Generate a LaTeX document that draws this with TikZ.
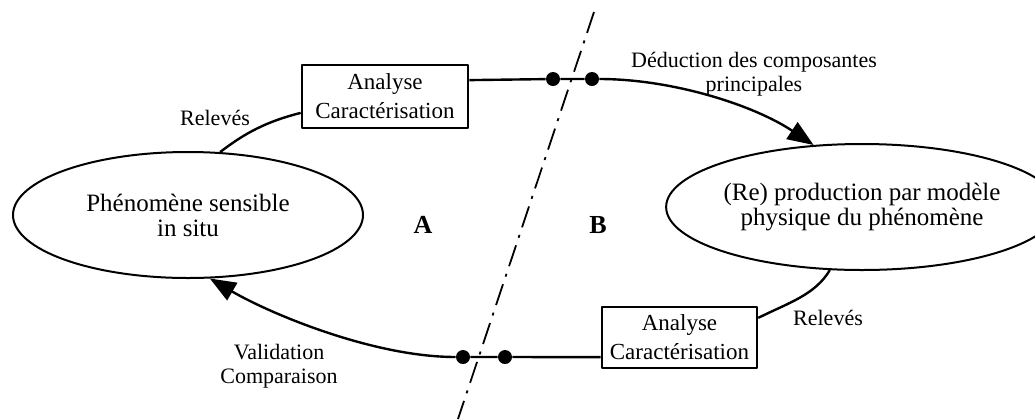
\documentclass[tikz,border=0pt]{standalone}
\usepackage{fontspec}
\setmainfont{Liberation Serif}
\usetikzlibrary{arrows.meta,shapes.geometric}

\begin{document}
\begin{tikzpicture}[x=0.5pt, y=-0.5pt, line join=round,
  >={Triangle[length=13pt,width=10pt]},
  bulle/.style={ellipse, draw, line width=1pt, inner sep=0pt, align=center,
    font=\fontsize{12.5}{12.5}\selectfont},
  boite/.style={rectangle, draw, line width=1.3pt, inner sep=0pt, align=center,
    font=\fontsize{11.5}{14.5}\selectfont},
  lien/.style={line width=1.2pt},
  point/.style={circle, fill, inner sep=0pt, minimum size=7pt},
  etiquette/.style={align=center, font=\fontsize{11}{12}\selectfont},
  lettre/.style={font=\fontsize{13}{13}\selectfont\bfseries},
  axe/.style={line width=0.9pt, dash pattern=on 11pt off 4pt on 1.5pt off 4pt}]

  \useasboundingbox (0,0) rectangle (1035,419);

  % --- 1. Les deux phénomènes ---
  \node[bulle, minimum width=175pt, minimum height=63pt] (pheno) at (188,215)
    {Phénomène sensible\\in situ};
  \node[bulle, minimum width=171pt, minimum height=63pt] (modele) at (862,207)
    {(Re) production par modèle\\physique du phénomène};

  % --- 2. Boîtes d'analyse ---
  \node[boite, minimum width=83pt, minimum height=31.5pt] (analyseH) at (385,96.5)
    {Analyse\\Caractérisation};
  \node[boite, minimum width=77.5pt, minimum height=30.5pt] (analyseB) at (679.5,337.5)
    {Analyse\\Caractérisation};

  % --- 3. Points de passage ---
  \node[point] (ptH1) at (553,79) {};
  \node[point] (ptH2) at (592,79) {};
  \node[point] (ptB1) at (463,357) {};
  \node[point] (ptB2) at (505,357) {};

  % --- 4. Frontière A / B ---
  \coordinate (axeHaut) at (594,12);
  \coordinate (axeBas) at (458,419);
  \draw[axe] (axeHaut) -- (axeBas);

  % --- 5. Liens du cycle ---
  \draw[lien] (analyseH.191) .. controls +(-40,10) and +(20,-15) .. (pheno.63);
  \draw[lien] (analyseH.11) -- (ptH1) -- (ptH2);
  \draw[lien, ->] (ptH2) .. controls +(80,0) and +(-60,-40) .. (modele.128);
  \draw[lien] (analyseB.14) .. controls +(30,-15) and +(-15,25) .. (modele.243);
  \draw[lien] (analyseB.194) -- (ptB2) -- (ptB1);
  \draw[lien, ->] (ptB1) .. controls +(-90,0) and +(60,35) .. (pheno.289);

  % --- 6. Étiquettes ---
  \node[etiquette] (releveH) at (215,118) {Relevés};
  \node[etiquette] (releveB) at (828,318) {Relevés};
  \node[etiquette] (deduction) at (754,74) {Déduction des composantes\\principales};
  \node[etiquette] (validation) at (279,366) {Validation\\Comparaison};
  \node[lettre] (zoneA) at (423,225) {A};
  \node[lettre] (zoneB) at (598,225) {B};

\end{tikzpicture}
\end{document}
